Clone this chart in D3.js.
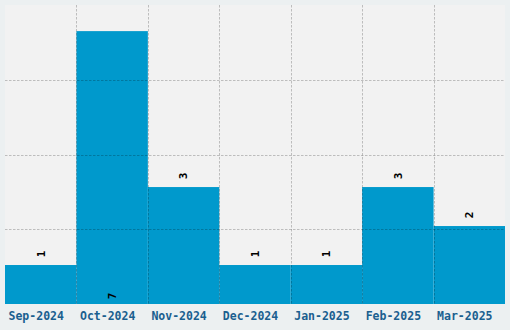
<!DOCTYPE html>
<html><head><meta charset="utf-8">
<script src="https://cdn.jsdelivr.net/npm/d3@7"></script>
<style>
html,body{margin:0;padding:0;background:#ecf0f1;}
svg{display:block;}
text{-webkit-font-smoothing:none;font-smooth:never;}
</style></head>
<body><svg id="c" width="510" height="330"></svg>
<script>
const categories = ["Sep-2024","Oct-2024","Nov-2024","Dec-2024","Jan-2025","Feb-2025","Mar-2025"];
const values = [1,7,3,1,1,3,2];
const yMax = 7.67;
const gridValues = [1.9175, 3.835, 5.7525];

const W = 510, H = 330;
const m = {l:5, r:5, t:5, b:26};
const svg = d3.select("#c");
svg.append("rect").attr("width",W).attr("height",H).attr("fill","#ecf0f1");

const x = d3.scaleBand().domain(categories).range([m.l, W-m.r]).padding(0);
const y = d3.scaleLinear().domain([0,yMax]).range([H-m.b, m.t]);

svg.append("rect").attr("x",m.l).attr("y",m.t).attr("width",W-m.l-m.r).attr("height",H-m.t-m.b).attr("fill","#f2f2f2");

svg.append("g").selectAll("rect").data(values).join("rect")
  .attr("x",(d,i)=>x(categories[i]))
  .attr("y",d=>y(d))
  .attr("width",x.bandwidth())
  .attr("height",d=>y(0)-y(d))
  .attr("fill","#0099cc");

const grid = svg.append("g").attr("stroke","rgba(0,0,0,0.22)").attr("stroke-dasharray","2.5,1.5").attr("stroke-width",1);
grid.selectAll("line.h").data(gridValues).join("line").attr("class","h")
  .attr("x1",m.l).attr("x2",W-m.r)
  .attr("y1",d=>Math.round(y(d))+0.5).attr("y2",d=>Math.round(y(d))+0.5);
grid.selectAll("line.v").data(categories.slice(1)).join("line").attr("class","v")
  .attr("y1",m.t).attr("y2",H-m.b)
  .attr("x1",d=>Math.round(x(d))+0.5).attr("x2",d=>Math.round(x(d))+0.5);

const maxV = d3.max(values);
svg.append("g").selectAll("text").data(values).join("text")
  .attr("transform",(d,i)=>{
    const cx = x(categories[i]) + x.bandwidth()/2;
    const cy = d===maxV ? y(0)-8 : y(d)-11;
    return `translate(${cx},${cy}) rotate(-90)`;
  })
  .attr("text-anchor","middle").attr("dy","0.35em")
  .attr("font-family","'DejaVu Sans Mono', monospace").attr("font-size","11px")
  .attr("font-weight","bold")
  .attr("fill","#000")
  .text(d=>d);

const xAxis = d3.axisBottom(x).tickSize(0).tickPadding(8);
const ax = svg.append("g").attr("transform",`translate(0,${H-m.b})`).call(xAxis);
ax.select(".domain").remove();
ax.selectAll("text").attr("dx","-4.5").attr("font-family","'DejaVu Sans Mono', monospace").attr("font-size","11.5px")
  .attr("font-weight","bold").attr("fill","#1a5f8f");
</script></body></html>
